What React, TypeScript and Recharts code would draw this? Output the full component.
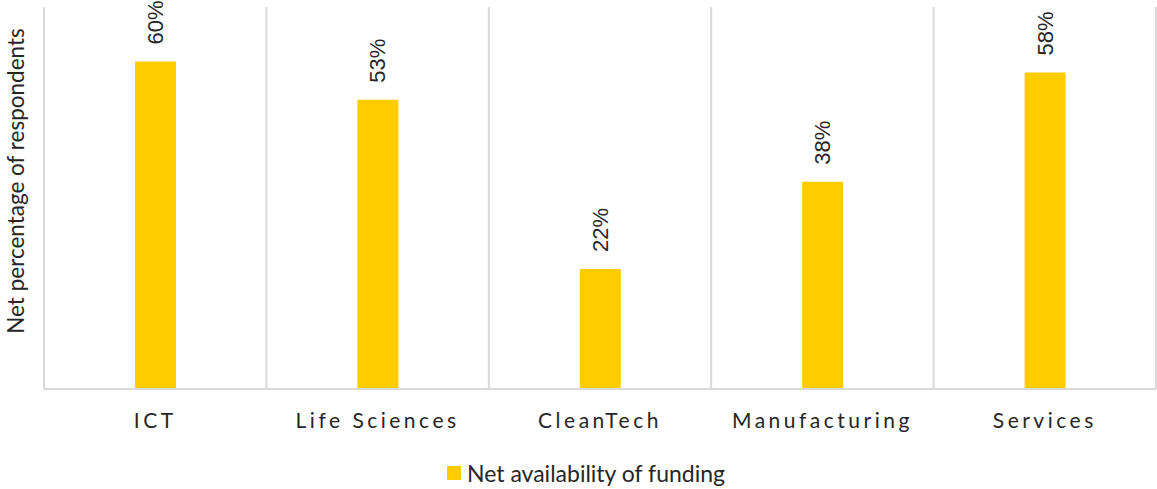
import { BarChart, Bar, XAxis, YAxis, CartesianGrid, Legend, LabelList } from 'recharts';

const sectors = ['ICT', 'Life Sciences', 'CleanTech', 'Manufacturing', 'Services'];
const netAvailability = [60, 53, 22, 38, 58];

const data = sectors.map((name, i) => ({ name, value: netAvailability[i] }));

const FONT = 'Lato, "Noto Sans", sans-serif';
const YELLOW = '#FFCC00';

// vertical lines between the categories (band edges of the plot area)
const bandEdges = (props: any) => {
  const off = props?.offset;
  if (!off) return [];
  const step = off.width / sectors.length;
  return [0, 1, 2, 3, 4, 5].map((i) => off.left + i * step);
};

const ValueLabel = (props: any) => {
  const { x, y, width, value } = props;
  const cx = x + width / 2;
  const cy = y - 17;
  return (
    <text
      transform={`translate(${cx}, ${cy}) rotate(-90)`}
      textAnchor="start"
      dominantBaseline="central"
      fontSize={22}
      fontFamily='"Liberation Sans", Arial, sans-serif'
      fill="#262626"
    >
      {value}%
    </text>
  );
};

const YTitle = (props: any) => {
  const { viewBox } = props;
  const cx = viewBox.x + 15;
  const cy = viewBox.y + viewBox.height / 2 - 17;
  return (
    <text
      transform={`translate(${cx}, ${cy}) rotate(-90)`}
      textAnchor="middle"
      dominantBaseline="central"
      fontSize={22.5}
      fontFamily={FONT}
      fill="#262626"
    >
      Net percentage of respondents
    </text>
  );
};

const LegendContent = () => (
  <div
    style={{
      display: 'flex',
      justifyContent: 'center',
      alignItems: 'center',
      fontFamily: FONT,
      paddingLeft: 16,
      marginTop: -2,
    }}
  >
    <span style={{ width: 14, height: 14, background: YELLOW, display: 'inline-block', marginRight: 6 }} />
    <span style={{ fontSize: 23, color: '#262626' }}>Net availability of funding</span>
  </div>
);

export default function App() {
  return (
    <div style={{ position: 'absolute', left: 0, top: 0 }}>
      <BarChart width={1157} height={489} data={data} margin={{ top: 7, right: 1, left: 0, bottom: 0 }}>
        <CartesianGrid
          horizontal={false}
          stroke="#d9d9d9"
          strokeWidth={2}
          verticalCoordinatesGenerator={bandEdges}
        />
        <XAxis
          dataKey="name"
          height={72}
          axisLine={{ stroke: '#d9d9d9', strokeWidth: 2 }}
          tickLine={false}
          tickMargin={18}
          tick={{ fontSize: 21, fill: '#262626', fontFamily: FONT, letterSpacing: 3.5 }}
        />
        <YAxis width={44} domain={[0, 70]} tick={false} axisLine={false} tickLine={false} label={<YTitle />} />
        <Legend verticalAlign="bottom" height={28} content={<LegendContent />} />
        <Bar dataKey="value" fill={YELLOW} barSize={41} isAnimationActive={false}>
          <LabelList dataKey="value" content={<ValueLabel />} />
        </Bar>
      </BarChart>
    </div>
  );
}
